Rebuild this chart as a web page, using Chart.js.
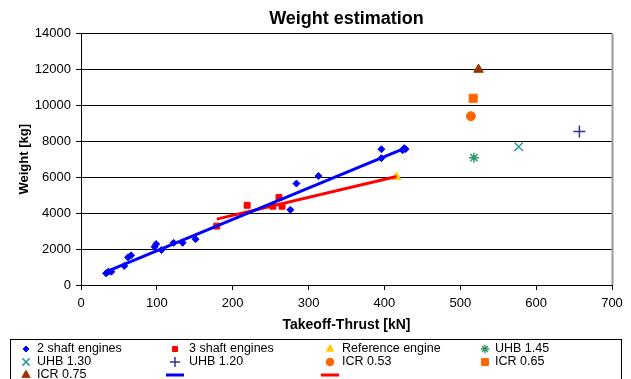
<!DOCTYPE html>
<html>
<head>
<meta charset="utf-8">
<title>Weight estimation</title>
<script src="https://cdn.jsdelivr.net/npm/chart.js"></script>
<style>
  html, body { margin: 0; padding: 0; background: #fff; }
  #wrap { position: relative; width: 631px; height: 379px; }
</style>
</head>
<body>
<div id="wrap"><canvas id="chart"></canvas></div>
<script>
// ========================================
// データ（推力 [kN] / 重量 [kg]）
// ========================================

// 2軸エンジン
const twoShaftThrust = [33, 36, 40, 57, 62, 66, 97, 99, 106, 122, 134, 151, 276, 284, 313, 396, 396, 424, 428, 426];
const twoShaftWeight = [650, 740, 740, 1060, 1540, 1650, 2130, 2280, 1950, 2350, 2350, 2550, 4190, 5650, 6070, 7560, 7060, 7500, 7570, 7620];

// 3軸エンジン
const threeShaftThrust = [179, 219, 253, 261, 265];
const threeShaftWeight = [3280, 4440, 4390, 4870, 4390];

// 基準エンジン
const refThrust = [416];
const refWeight = [6020];

// UHB / ICR 案
const uhb145Thrust = [518];
const uhb145Weight = [7090];
const uhb130Thrust = [577];
const uhb130Weight = [7700];
const uhb120Thrust = [657];
const uhb120Weight = [8550];
const icr053Thrust = [514];
const icr053Weight = [9400];
const icr065Thrust = [517];
const icr065Weight = [10400];
const icr075Thrust = [524];
const icr075Weight = [12000];

// 近似直線の両端
const trend2Thrust = [32, 428];
const trend2Weight = [720, 7630];
const trend3Thrust = [179, 416];
const trend3Weight = [3670, 6040];

// 目盛り
const xTicks = [0, 100, 200, 300, 400, 500, 600, 700];
const yTicks = [0, 2000, 4000, 6000, 8000, 10000, 12000, 14000];

// x,y 配列を点の配列にする
function toPoints(xs, ys) {
    return xs.map((x, i) => ({ x: x, y: ys[i] }));
}

const FONT = '"Liberation Sans", Arial, sans-serif';
Chart.defaults.font.family = FONT;
Chart.defaults.color = '#000';

// 散布図の系列
function markerSet(label, xs, ys, style, radius, color, border) {
    return {
        label: label,
        data: toPoints(xs, ys),
        pointStyle: style,
        pointRadius: radius,
        pointHoverRadius: radius,
        backgroundColor: color,
        borderColor: color,
        borderWidth: border || 1,
        pointBorderWidth: border || 1,
        showLine: false,
        order: 1
    };
}

// 近似直線の系列
function trendSet(xs, ys, color) {
    return {
        type: 'line',
        label: '',
        data: toPoints(xs, ys),
        borderColor: color,
        backgroundColor: color,
        borderWidth: 3,
        pointRadius: 0,
        showLine: true,
        fill: false,
        order: 0
    };
}

const datasets = [
    markerSet('2 shaft engines', twoShaftThrust, twoShaftWeight, 'rectRot', 3.5, '#0000FF'),
    markerSet('3 shaft engines', threeShaftThrust, threeShaftWeight, 'rect', 4.2, '#FF0000'),
    markerSet('Reference engine', refThrust, refWeight, 'triangle', 5, '#FFCC00'),
    markerSet('UHB 1.45', uhb145Thrust, uhb145Weight, 'star', 5, '#339966', 1.5),
    markerSet('UHB 1.30', uhb130Thrust, uhb130Weight, 'crossRot', 6, '#339999', 1.5),
    markerSet('UHB 1.20', uhb120Thrust, uhb120Weight, 'cross', 6, '#333399', 1.5),
    markerSet('ICR 0.53', icr053Thrust, icr053Weight, 'circle', 4.5, '#FF6600'),
    markerSet('ICR 0.65', icr065Thrust, icr065Weight, 'rect', 5.7, '#FF6600'),
    markerSet('ICR 0.75', icr075Thrust, icr075Weight, 'triangle', 5.5, '#993300'),
    trendSet(trend2Thrust, trend2Weight, '#0000FF'),
    trendSet(trend3Thrust, trend3Weight, '#FF0000')
];

// 右側の枠線
const rightBorder = {
    id: 'rightBorder',
    afterDraw(chart) {
        const a = chart.chartArea;
        const ctx = chart.ctx;
        ctx.save();
        ctx.strokeStyle = '#999';
        ctx.lineWidth = 2;
        ctx.beginPath();
        ctx.moveTo(a.right + 0.5, a.top);
        ctx.lineTo(a.right + 0.5, a.bottom);
        ctx.stroke();
        ctx.restore();
    }
};

// 4列の凡例（枠付き）
const gridLegend = {
    id: 'gridLegend',
    afterDraw(chart) {
        const ctx = chart.ctx;
        const markX = [26, 175, 330, 485];
        const textX = [37, 189, 342, 495];
        ctx.save();
        ctx.strokeStyle = '#000';
        ctx.lineWidth = 1;
        ctx.strokeRect(10.5, 339.5, 611, 45);
        ctx.font = '12.5px ' + FONT;
        ctx.textBaseline = 'middle';
        ctx.textAlign = 'left';
        chart.data.datasets.forEach((ds, i) => {
            const col = i % 4;
            const row = Math.floor(i / 4);
            const y = 349 + row * 13;
            const mx = markX[col];
            if (ds.type === 'line') {
                ctx.strokeStyle = ds.borderColor;
                ctx.lineWidth = 3;
                ctx.beginPath();
                ctx.moveTo(mx - 9, y);
                ctx.lineTo(mx + 9, y);
                ctx.stroke();
            } else {
                ctx.fillStyle = ds.backgroundColor;
                ctx.strokeStyle = ds.borderColor;
                ctx.lineWidth = ds.borderWidth;
                Chart.helpers.drawPoint(ctx, {
                    pointStyle: ds.pointStyle,
                    radius: ds.pointRadius * 0.85,
                    rotation: 0,
                    borderWidth: ds.borderWidth
                }, mx, y);
            }
            if (ds.label) {
                ctx.fillStyle = '#000';
                ctx.fillText(ds.label, textX[col], y);
            }
        });
        ctx.restore();
    }
};

const ctx = document.getElementById('chart').getContext('2d');
const chart = new Chart(ctx, {
    type: 'scatter',
    data: { datasets: datasets },
    options: {
        responsive: true,
        maintainAspectRatio: false,
        animation: false,
        layout: { padding: { left: 0, right: 19, top: 0, bottom: 43 } },
        plugins: {
            legend: { display: false },
            tooltip: { enabled: false },
            title: {
                display: true,
                text: 'Weight estimation',
                fullSize: false,
                font: { size: 18, weight: 'bold' },
                padding: { top: 8, bottom: 4 }
            }
        },
        scales: {
            x: {
                type: 'linear',
                min: xTicks[0],
                max: xTicks[xTicks.length - 1],
                afterBuildTicks: (scale) => { scale.ticks = xTicks.map(v => ({ value: v })); },
                afterFit: (scale) => { scale.height = 51; },
                ticks: { font: { size: 13 }, padding: 6, maxRotation: 0, callback: (v) => String(v) },
                grid: { drawOnChartArea: false, color: '#000', tickLength: 5 },
                border: { color: '#000', width: 1 },
                title: {
                    display: true,
                    text: 'Takeoff-Thrust [kN]',
                    font: { size: 14, weight: 'bold' },
                    padding: { top: 0, bottom: 2 }
                }
            },
            y: {
                type: 'linear',
                min: yTicks[0],
                max: yTicks[yTicks.length - 1],
                afterBuildTicks: (scale) => { scale.ticks = yTicks.map(v => ({ value: v })); },
                afterFit: (scale) => { scale.width = 81; },
                ticks: { font: { size: 13 }, padding: 5, callback: (v) => String(v) },
                grid: { color: '#000', tickLength: 5 },
                border: { color: '#000', width: 1 },
                title: {
                    display: true,
                    text: 'Weight [kg]',
                    font: { size: 13, weight: 'bold' },
                    padding: { top: 17, bottom: 0 }
                }
            }
        }
    },
    plugins: [rightBorder, gridLegend]
});
</script>
</body>
</html>
